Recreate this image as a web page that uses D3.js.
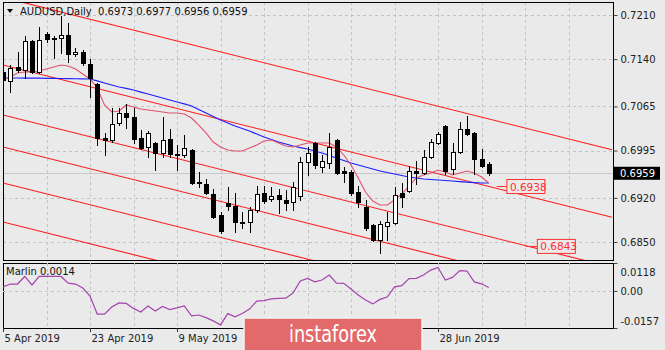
<!DOCTYPE html>
<html><head><meta charset="utf-8">
<script src="https://cdn.jsdelivr.net/npm/d3@7"></script>
<style>
html,body{margin:0;padding:0;background:#eaeaea;}
svg{display:block;}
text{font-family:"DejaVu Sans",sans-serif;}
</style></head><body>
<svg id="c" width="665" height="350"></svg>
<script>
// ---- data (AUDUSD daily, bar 0 = 5 Apr 2019) ----
const opens=[0.71196,0.71053,0.71275,0.71228,0.71688,0.71196,0.71799,0.71735,0.71735,0.71783,0.71481,0.71513,0.71323,0.71006,0.70149,0.70117,0.70387,0.70546,0.70482,0.70149,0.70006,0.70070,0.69911,0.70133,0.69895,0.69880,0.69959,0.69459,0.69420,0.69261,0.68928,0.69118,0.69071,0.68817,0.68817,0.69007,0.69277,0.69182,0.69245,0.69166,0.69134,0.69224,0.69769,0.70070,0.69689,0.69753,0.70117,0.69626,0.69610,0.69293,0.69055,0.68769,0.68531,0.68754,0.68801,0.69277,0.69309,0.69626,0.69594,0.69848,0.70070,0.70340,0.69658,0.69927,0.70292,0.70229,0.69816,0.6973];
const highs=[0.71307,0.71307,0.71513,0.71767,0.71703,0.71910,0.71830,0.71767,0.72084,0.71973,0.71577,0.71545,0.71402,0.71022,0.70229,0.70625,0.70625,0.70688,0.70625,0.70276,0.70260,0.70086,0.70482,0.70292,0.70038,0.70197,0.69975,0.69610,0.69499,0.69340,0.68976,0.69372,0.69277,0.68976,0.69055,0.69388,0.69388,0.69372,0.69340,0.69324,0.69451,0.69848,0.70006,0.70086,0.69880,0.70229,0.70133,0.69689,0.69642,0.69388,0.69166,0.68785,0.68833,0.68976,0.69372,0.69436,0.69705,0.69784,0.69959,0.70133,0.70244,0.70355,0.70070,0.70403,0.70498,0.70244,0.69975,0.6977];
const lows=[0.70910,0.70879,0.71196,0.71101,0.71180,0.71180,0.71672,0.71418,0.71497,0.71355,0.71450,0.71307,0.70799,0.70038,0.69880,0.70086,0.70355,0.70308,0.70070,0.69975,0.69848,0.69642,0.69848,0.69848,0.69642,0.69848,0.69420,0.69372,0.69261,0.68880,0.68643,0.69007,0.68658,0.68722,0.68658,0.68976,0.69118,0.69150,0.68955,0.69007,0.69007,0.69161,0.69562,0.69673,0.69610,0.69673,0.69578,0.69451,0.69245,0.69055,0.68690,0.68516,0.68325,0.68531,0.68785,0.69055,0.69293,0.69420,0.69578,0.69832,0.70054,0.69578,0.69578,0.69911,0.70197,0.69578,0.69689,0.6956];
const closes=[0.71069,0.71259,0.71228,0.71688,0.71196,0.71703,0.71719,0.71727,0.71783,0.71481,0.71513,0.71339,0.71101,0.70149,0.70117,0.70371,0.70546,0.70482,0.70133,0.69991,0.70229,0.69911,0.70117,0.69895,0.69887,0.69991,0.69436,0.69443,0.69277,0.68896,0.68674,0.69071,0.68817,0.68809,0.69007,0.69261,0.69150,0.69229,0.69182,0.69118,0.69372,0.69769,0.69911,0.69721,0.69784,0.70006,0.69594,0.69594,0.69277,0.69134,0.68722,0.68531,0.68785,0.68817,0.69245,0.69213,0.69626,0.69594,0.69848,0.70086,0.70213,0.69626,0.69927,0.70292,0.70213,0.69816,0.69705,0.6959];
const maSlow=[0.71101,0.71101,0.71101,0.71100,0.71100,0.71098,0.71096,0.71094,0.71093,0.71091,0.71089,0.71087,0.71085,0.71055,0.71022,0.70990,0.70958,0.70935,0.70910,0.70878,0.70847,0.70815,0.70784,0.70752,0.70720,0.70690,0.70657,0.70600,0.70546,0.70490,0.70435,0.70388,0.70340,0.70300,0.70260,0.70212,0.70165,0.70125,0.70086,0.70054,0.70022,0.69998,0.69975,0.69943,0.69911,0.69872,0.69832,0.69793,0.69753,0.69721,0.69689,0.69657,0.69626,0.69602,0.69578,0.69555,0.69531,0.69515,0.69499,0.69491,0.69483,0.69475,0.69467,0.69459,0.69451,0.69443,0.69436,0.69436];
const maFast=[0.71069,0.71117,0.71180,0.71196,0.71196,0.71212,0.71244,0.71275,0.71307,0.71291,0.71244,0.71164,0.71085,0.70942,0.70673,0.70562,0.70577,0.70673,0.70641,0.70609,0.70593,0.70577,0.70562,0.70546,0.70546,0.70530,0.70466,0.70355,0.70229,0.70086,0.70006,0.69959,0.69943,0.69943,0.69991,0.70038,0.70102,0.70117,0.70070,0.70022,0.70006,0.70038,0.70070,0.70070,0.70070,0.70070,0.70006,0.69880,0.69721,0.69515,0.69293,0.69150,0.69087,0.69087,0.69166,0.69261,0.69388,0.69515,0.69562,0.69594,0.69642,0.69610,0.69562,0.69594,0.69626,0.69594,0.69531,0.69436];
const marlin=[0.0017,0.0029,0.0029,0.0061,0.0025,0.0061,0.0061,0.0061,0.0061,0.0033,0.0029,0.0012,-0.0022,-0.0098,-0.0098,-0.0068,-0.0051,-0.0053,-0.0074,-0.0089,-0.0064,-0.0085,-0.0066,-0.0079,-0.0072,-0.0064,-0.0106,-0.0102,-0.0113,-0.0127,-0.0144,-0.0096,-0.0110,-0.0096,-0.0077,-0.0043,-0.0041,-0.0034,-0.0032,-0.0031,-0.0009,0.0042,0.0053,0.0038,0.0046,0.0067,0.0033,0.0032,0.0008,-0.0017,-0.0039,-0.0055,-0.0036,-0.0026,0.0017,0.0022,0.0052,0.0053,0.0067,0.0088,0.0099,0.0046,0.0057,0.0086,0.0084,0.0038,0.0030,0.0014];
// channel lines: price at bar 0 and at bar 84
const channelStart=[0.72378,0.71307,0.70514,0.70006,0.69436,0.68817];
const channelEnd=[0.69963,0.68892,0.68099,0.67591,0.67021,0.66402];
const levelPrices=[0.6938,0.6843];
const priceTicks=[0.7210,0.7140,0.7065,0.6995,0.6920,0.6850];
const marlinTicks=[0.0118,0,-0.0157];
const marlinTickLabels=["0.0118","0.00","-0.0157"];
const dateTickIdx=[0,12,24,60];
const dateTickLabels=["5 Apr 2019","23 Apr 2019","9 May 2019","28 Jun 2019"];
const title="AUDUSD,Daily  0.6973 0.6977 0.6956 0.6959";
const lastPrice=0.6959, lastMarlin=0.0014;

// ---- layout ----
const L=3,R=613,T=2,B=260,IT=263,IB=328;
const svg=d3.select("#c");
const x=d3.scaleLinear().domain([0,84]).range([3,612]);
const y=d3.scaleLinear().domain([0.6850,0.7210]).range([242,15]);
const yi=d3.scaleLinear().domain([-0.0157,0.0118]).range([IB,IT]);
const gridCol="#c4c4c4";

svg.append("rect").attr("width",665).attr("height",350).attr("fill","#eaeaea");
const defs=svg.append("defs");
defs.append("clipPath").attr("id","cm").append("rect").attr("x",L).attr("y",T).attr("width",R-L).attr("height",B-T);
defs.append("clipPath").attr("id","ci").append("rect").attr("x",L).attr("y",IT).attr("width",R-L).attr("height",IB-IT);

// grid
const vIdx=d3.range(6,84,6);
const main=svg.append("g").attr("clip-path","url(#cm)");
main.selectAll(".gv").data(vIdx).join("line").attr("x1",d=>Math.round(x(d))+0.5).attr("x2",d=>Math.round(x(d))+0.5)
 .attr("y1",T).attr("y2",B).attr("stroke",gridCol).attr("stroke-dasharray","3,3");
main.selectAll(".gh").data(priceTicks).join("line").attr("x1",L).attr("x2",R).attr("y1",d=>Math.round(y(d))+0.5).attr("y2",d=>Math.round(y(d))+0.5)
 .attr("stroke",gridCol).attr("stroke-dasharray","3,3");
// bid line
main.append("line").attr("x1",L).attr("x2",R).attr("y1",Math.round(y(lastPrice))+0.5).attr("y2",Math.round(y(lastPrice))+0.5).attr("stroke","#c8c8c8");

// channel lines
main.selectAll(".ch").data(channelStart).join("line")
 .attr("x1",x(0)).attr("y1",d=>y(d)).attr("x2",x(84)).attr("y2",(d,i)=>y(channelEnd[i]))
 .attr("stroke","#ff1a1a").attr("stroke-width",1.1);

// MAs
const line=d3.line().x((d,i)=>x(i)).y(d=>y(d));
main.append("path").attr("d",line(maSlow)).attr("fill","none").attr("stroke","#1f1fff").attr("stroke-width",1.2);
main.append("path").attr("d",line(maFast)).attr("fill","none").attr("stroke","#e2506f").attr("stroke-width",1.1);

// candles
const idx=d3.range(opens.length);
const cg=main.append("g").attr("shape-rendering","crispEdges");
cg.selectAll(".w").data(idx).join("line")
 .attr("x1",i=>Math.round(x(i))+0.5).attr("x2",i=>Math.round(x(i))+0.5)
 .attr("y1",i=>Math.round(y(highs[i]))).attr("y2",i=>Math.round(y(lows[i]))+1).attr("stroke","#000");
cg.selectAll(".b").data(idx).join("rect")
 .attr("x",i=>Math.round(x(i))-2+0.5).attr("width",4)
 .attr("y",i=>Math.round(y(Math.max(opens[i],closes[i])))+0.5)
 .attr("height",i=>Math.max(0.01,Math.round(y(Math.min(opens[i],closes[i])))-Math.round(y(Math.max(opens[i],closes[i])))))
 .attr("fill",i=>closes[i]>=opens[i]?"#ffffff":"#000000").attr("stroke","#000");

// level labels
const lvOff=[[68.1,69.5],[72.1,73.7]];
levelPrices.forEach((p,k)=>{
  const yy=y(p), x0=x(lvOff[k][0]), x1=x(lvOff[k][1]);
  main.append("line").attr("x1",x0).attr("x2",x1).attr("y1",yy).attr("y2",yy).attr("stroke","#ff3030");
  main.append("rect").attr("x",x1).attr("y",yy-7).attr("width",38).attr("height",14).attr("fill","#eaeaea").attr("stroke","#ff3030");
  main.append("text").attr("x",x1+3).attr("y",yy+4).attr("font-size",10.5).attr("fill","#ff3030").text(d3.format(".4f")(p));
});

// frames
svg.append("rect").attr("x",L+0.5).attr("y",T+0.5).attr("width",R-L).attr("height",B-T).attr("fill","none").attr("stroke","#000");
svg.append("rect").attr("x",L+0.5).attr("y",IT+0.5).attr("width",R-L).attr("height",IB-IT).attr("fill","none").attr("stroke","#000");

// price axis
const ax=svg.append("g").attr("transform",`translate(${R+0.5},0)`)
 .call(d3.axisRight(y).tickValues(priceTicks).tickFormat(d3.format(".4f")).tickSize(4).tickPadding(3));
ax.select(".domain").remove();
ax.selectAll("text").attr("font-size",10).attr("fill","#222").attr("font-family","DejaVu Sans");
ax.selectAll("line").attr("stroke","#444");
// current price box
svg.append("rect").attr("x",R+1).attr("y",y(lastPrice)-6.5).attr("width",46).attr("height",13).attr("fill","#000");
svg.append("text").attr("x",R+7).attr("y",y(lastPrice)+4).attr("font-size",10).attr("fill","#fff").text(d3.format(".4f")(lastPrice));

// title
svg.append("path").attr("d","M7,9 L13,9 L10,13 Z").attr("fill","#000");
svg.append("text").attr("x",20).attr("y",15).attr("font-size",10).attr("fill","#111").attr("xml:space","preserve").style("white-space","pre").text(title);

// indicator panel
const ind=svg.append("g").attr("clip-path","url(#ci)");
ind.selectAll(".gv").data(vIdx).join("line").attr("x1",d=>Math.round(x(d))+0.5).attr("x2",d=>Math.round(x(d))+0.5)
 .attr("y1",IT).attr("y2",IB).attr("stroke",gridCol).attr("stroke-dasharray","3,3");
ind.append("line").attr("x1",L).attr("x2",R).attr("y1",Math.round(yi(0))+0.5).attr("y2",Math.round(yi(0))+0.5).attr("stroke",gridCol).attr("stroke-dasharray","3,3");
ind.append("path").attr("d",d3.line().x((d,i)=>x(i)).y(d=>yi(d))(marlin)).attr("fill","none").attr("stroke","#a444ae").attr("stroke-width",1.2);
svg.append("text").attr("x",6).attr("y",275).attr("font-size",10).attr("fill","#111").text("Marlin "+lastMarlin.toFixed(4));

const iax=svg.append("g").attr("transform",`translate(${R+0.5},0)`)
 .call(d3.axisRight(yi).tickValues(marlinTicks).tickFormat((d,i)=>marlinTickLabels[i]).tickSize(4).tickPadding(3));
iax.select(".domain").remove();
iax.selectAll("line").attr("stroke","#444");
iax.selectAll("text").attr("font-size",10).attr("fill","#222").attr("font-family","DejaVu Sans")
 .attr("dy",(d)=>d===marlinTicks[0]?"1.25em":(d===marlinTicks[2]?"-0.4em":"0.32em"));

// date axis
const dg=svg.append("g");
dateTickIdx.forEach((d,k)=>{
  const xx=Math.round(x(d))+0.5;
  dg.append("line").attr("x1",xx).attr("x2",xx).attr("y1",IB).attr("y2",IB+4).attr("stroke","#333");
  dg.append("text").attr("x",xx+1).attr("y",342).attr("font-size",10).attr("fill","#222").text(dateTickLabels[k]);
});

// watermark
svg.append("rect").attr("x",244).attr("y",318).attr("width",178).attr("height",33).attr("fill","#e36a6a").attr("stroke","#f3f3f3").attr("stroke-width",1.5);
svg.append("text").attr("x",333).attr("y",342).attr("text-anchor","middle").attr("font-size",23)
 .attr("font-family","'Liberation Sans Narrow','Roboto',sans-serif").attr("fill","#fff")
 .attr("textLength",88).attr("lengthAdjust","spacingAndGlyphs").text("instaforex");
</script>
</body></html>
